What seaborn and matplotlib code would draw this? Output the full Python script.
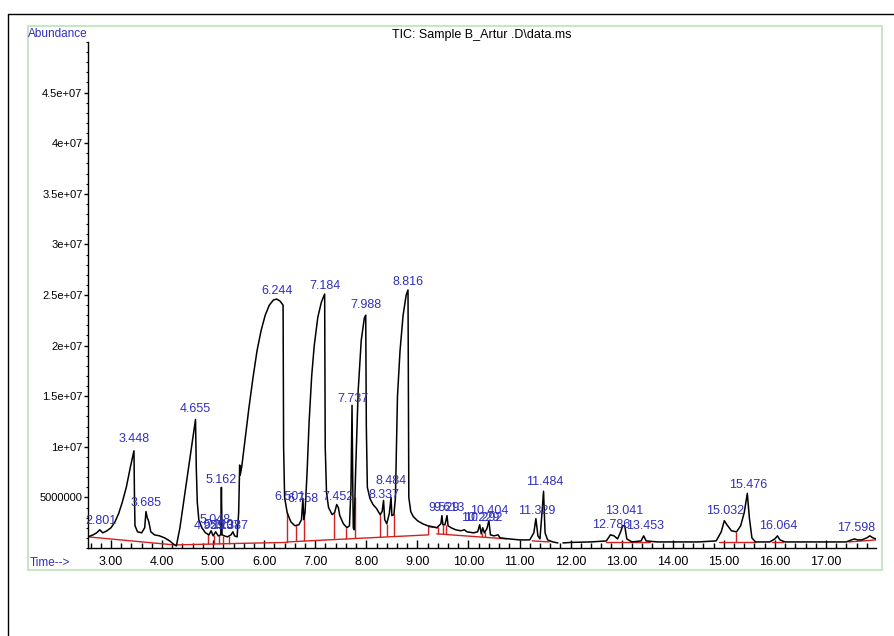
import numpy as np
import pandas as pd
import matplotlib
matplotlib.use("Agg")
import matplotlib.pyplot as plt
from matplotlib.patches import Rectangle
from matplotlib.lines import Line2D
from matplotlib.ticker import MultipleLocator, FixedLocator, FixedFormatter
import seaborn as sns

# ---------------- data ----------------
# total ion chromatogram: retention time (min) and abundance (millions)
trace_time = [
    2.55, 2.65, 2.72, 2.78, 2.84, 2.92, 3.00, 3.08, 3.15, 3.22, 3.30, 3.38, 3.45, 3.46, 3.47,
    3.52, 3.60, 3.66, 3.685, 3.71, 3.74, 3.78, 3.85, 3.95, 4.05, 4.15, 4.22, 4.28,
    4.35, 4.45, 4.55, 4.655, 4.67, 4.69, 4.72, 4.78, 4.85, 4.92, 4.96, 5.00, 5.05, 5.10,
    5.15, 5.162, 5.175, 5.22, 5.28, 5.35, 5.387, 5.42, 5.47, 5.50, 5.52, 5.53, 5.56,
    5.62, 5.70, 5.78, 5.86, 5.94, 6.02, 6.10, 6.18, 6.244, 6.31, 6.37, 6.38, 6.40,
    6.45, 6.52, 6.60, 6.68, 6.73, 6.758, 6.775, 6.80, 6.84, 6.88, 6.93, 6.98, 7.05,
    7.12, 7.184, 7.195, 7.22, 7.26, 7.33, 7.38, 7.42, 7.452, 7.48, 7.55, 7.62, 7.67,
    7.70, 7.72, 7.735, 7.745, 7.76, 7.79, 7.84, 7.90, 7.96, 7.988, 8.00, 8.02, 8.07,
    8.13, 8.20, 8.27, 8.31, 8.337, 8.36, 8.40, 8.45, 8.484, 8.50, 8.54, 8.57, 8.59,
    8.61, 8.66, 8.72, 8.78, 8.816, 8.822, 8.826, 8.832, 8.87, 8.92, 9.00,
    9.10, 9.20, 9.30, 9.38, 9.46, 9.48, 9.50, 9.54, 9.58, 9.60, 9.66, 9.75, 9.85,
    9.92, 9.97, 10.10, 10.18, 10.22, 10.25, 10.28, 10.31, 10.36, 10.40, 10.43, 10.50,
    10.58, 10.62, 10.80, 11.00, 11.20, 11.28, 11.32, 11.36, 11.40, 11.44, 11.47, 11.50,
    11.55, 11.65, 11.75,
    11.85, 12.00, 12.40, 12.70, 12.78, 12.85, 12.92, 12.98, 13.02, 13.06, 13.10, 13.20,
    13.38, 13.43, 13.48, 13.70, 14.00, 14.50, 14.85, 14.95, 15.01, 15.06, 15.15, 15.25,
    15.33, 15.40, 15.46, 15.50, 15.55, 15.62, 15.90, 16.00, 16.05, 16.10, 16.20, 16.80,
    17.40, 17.50, 17.56, 17.62, 17.70, 17.80, 17.86, 17.92, 17.98,
]
trace_abund_M = [
    1.1, 1.3, 1.5, 1.8, 1.5, 1.7, 2.0, 2.6, 3.4, 4.5, 6.0, 8.0, 9.6, 5.0, 2.2,
    1.6, 1.5, 2.0, 3.6, 3.0, 2.6, 1.6, 1.3, 1.2, 1.0, 0.7, 0.4, 0.2,
    2.0, 5.5, 9.0, 12.7, 8.0, 4.5, 2.8, 2.0, 1.5, 1.3, 1.7, 1.2, 1.6, 1.2,
    1.3, 6.0, 1.3, 1.2, 1.1, 1.3, 1.6, 1.2, 1.1, 3.5, 8.2, 7.2, 8.0,
    10.5, 13.8, 16.8, 19.5, 21.5, 23.0, 24.0, 24.5, 24.6, 24.4, 24.0, 10.0, 5.0,
    3.5, 2.6, 2.2, 2.3, 2.8, 4.9, 2.8, 3.5, 7.5, 12.5, 17.0, 20.0, 22.8,
    24.3, 25.1, 10.0, 5.5, 4.0, 3.3, 3.5, 4.3, 4.0, 3.2, 2.4, 2.0, 2.2,
    6.0, 14.1, 6.0, 2.0, 1.8, 7.5, 15.5, 20.5, 22.7, 23.0, 12.0, 6.0, 4.9,
    4.3, 3.9, 3.3, 3.6, 4.7, 2.8, 2.4, 3.4, 5.0, 3.2, 3.3, 5.0, 10.0,
    15.0, 19.5, 23.0, 25.0, 25.5, 17.5, 11.8, 5.0, 3.6, 3.1, 2.7,
    2.4, 2.2, 2.1, 2.0, 2.4, 3.2, 2.3, 2.3, 3.2, 2.2, 2.0, 1.8, 1.7,
    1.8, 1.6, 1.5, 1.6, 2.3, 1.4, 2.0, 1.5, 1.9, 2.7, 1.3, 1.2,
    1.3, 1.0, 0.9, 0.8, 0.8, 1.5, 2.9, 1.2, 0.9, 3.5, 5.6, 1.5,
    0.8, 0.6, 0.5,
    0.5, 0.55, 0.6, 0.7, 1.3, 1.2, 0.9, 1.6, 2.2, 2.2, 0.9, 0.6,
    0.7, 1.2, 0.7, 0.6, 0.6, 0.6, 0.7, 1.6, 2.7, 2.3, 1.7, 1.6,
    2.2, 3.5, 5.4, 3.0, 1.0, 0.6, 0.6, 0.9, 1.2, 0.8, 0.6, 0.6,
    0.6, 0.8, 0.9, 0.8, 0.8, 1.0, 1.2, 1.0, 0.9,
]
# the trace has a short break between 11.75 and 11.85 min
BREAK_AT = trace_time.index(11.85)
trace_segment = [0] * BREAK_AT + [1] * (len(trace_time) - BREAK_AT)

# integration baselines (red)
base_time = [2.55, 4.25, 4.25, 5.45, 6.45, 6.45, 9.22, 9.22, 9.40,
             9.38, 10.75, 11.25, 11.58, 12.70, 13.55, 14.90, 15.62,
             15.95, 16.15, 17.45, 17.98]
base_abund_M = [1.1, 0.3, 0.3, 0.45, 0.55, 0.6, 1.3, 2.1, 2.0,
                1.4, 0.9, 0.7, 0.6, 0.6, 0.6, 0.6, 0.6,
                0.6, 0.6, 0.6, 0.8]
base_segment = [0, 0, 1, 1, 1, 2, 2, 2, 2,
                3, 3, 4, 4, 5, 5, 6, 6,
                7, 7, 8, 8]

# drop lines between peaks (time, bottom, top; millions)
drop_time = [4.90, 5.02, 5.12, 5.20, 5.32, 6.45, 6.62, 6.78, 7.37, 7.60, 7.78,
             8.27, 8.40, 8.54, 9.40, 9.50, 9.56, 10.26, 10.32, 15.24]
drop_bottom_M = [0.35, 0.36, 0.37, 0.38, 0.40, 0.6, 0.65, 0.7, 0.85, 0.9, 0.95,
                 1.1, 1.15, 1.2, 1.4, 1.4, 1.4, 1.05, 1.05, 0.6]
drop_top_M = [1.4, 1.3, 1.3, 1.2, 1.2, 3.5, 2.3, 3.3, 3.5, 2.0, 5.0,
              3.4, 2.4, 3.4, 2.1, 2.3, 2.3, 1.5, 1.6, 1.6]

# peak labels: retention time and label height (millions)
peak_rt = [2.801, 3.448, 3.685, 4.655, 4.929, 5.048, 5.110, 5.237, 5.387, 5.162,
           6.244, 6.501, 6.758, 7.184, 7.452, 7.737, 7.988, 8.337, 8.484, 8.816,
           9.529, 9.613, 10.229, 10.292, 10.404, 11.329, 11.484, 12.786, 13.041,
           13.453, 15.032, 15.476, 16.064, 17.598]
peak_label_M = [2.1, 10.2, 3.9, 13.1, 1.6, 2.2, 1.7, 1.6, 1.6, 6.1,
                24.8, 4.4, 4.2, 25.3, 4.4, 14.1, 23.4, 4.6, 6.0, 25.7,
                3.4, 3.4, 2.4, 2.4, 3.1, 3.1, 5.9, 1.7, 3.1,
                1.6, 3.1, 5.6, 1.6, 1.4]

x_major = [3, 4, 5, 6, 7, 8, 9, 10, 11, 12, 13, 14, 15, 16, 17]
x_labels = ["3.00", "4.00", "5.00", "6.00", "7.00", "8.00", "9.00", "10.00",
            "11.00", "12.00", "13.00", "14.00", "15.00", "16.00", "17.00"]
y_major = [5e6, 1e7, 1.5e7, 2e7, 2.5e7, 3e7, 3.5e7, 4e7, 4.5e7]
y_labels = ["5000000", "1e+07", "1.5e+07", "2e+07", "2.5e+07", "3e+07",
            "3.5e+07", "4e+07", "4.5e+07"]

title_text = "TIC: Sample B_Artur .D\\data.ms"

# ---------------- build tables ----------------
trace = pd.DataFrame({"time": trace_time,
                      "abund": np.array(trace_abund_M) * 1e6,
                      "seg": trace_segment})
base = pd.DataFrame({"time": base_time,
                     "abund": np.array(base_abund_M) * 1e6,
                     "seg": base_segment})

# ---------------- figure ----------------
sns.set_theme(style="ticks")
plt.rcParams["font.family"] = ["Liberation Sans", "DejaVu Sans"]

W, H = 894, 636
fig = plt.figure(figsize=(W / 100, H / 100), dpi=100)
fig.patch.set_facecolor("white")
ax = fig.add_axes([88 / W, 88 / H, 788 / W, 506 / H])
ax.set_facecolor("white")

BLUE = "#2f2fbf"
RED = "#d42020"

sns.lineplot(data=base, x="time", y="abund", units="seg", estimator=None,
             color=RED, lw=1.0, ax=ax, sort=False, zorder=2)
for t, b, tp in zip(drop_time, drop_bottom_M, drop_top_M):
    ax.vlines(t, b * 1e6, tp * 1e6, color=RED, lw=1.0, zorder=2)
sns.lineplot(data=trace, x="time", y="abund", units="seg", estimator=None,
             color="black", lw=1.1, ax=ax, sort=False, zorder=3)

for rt, h in zip(peak_rt, peak_label_M):
    ax.text(rt, h * 1e6, f"{rt:.3f}", color=BLUE, fontsize=9,
            ha="center", va="bottom", zorder=4)

ax.set_xlim(2.55, 17.98)
ax.set_ylim(0, 5.0e7)
ax.set_xlabel("")
ax.set_ylabel("")

for s in ["top", "right"]:
    ax.spines[s].set_visible(False)
for s in ["left", "bottom"]:
    ax.spines[s].set_color("black")
    ax.spines[s].set_linewidth(1.0)

ax.xaxis.set_major_locator(FixedLocator(x_major))
ax.xaxis.set_major_formatter(FixedFormatter(x_labels))
ax.xaxis.set_minor_locator(MultipleLocator(0.2))
ax.yaxis.set_major_locator(FixedLocator(y_major))
ax.yaxis.set_major_formatter(FixedFormatter(y_labels))
ax.yaxis.set_minor_locator(MultipleLocator(1e6))

ax.tick_params(axis="x", which="major", direction="in", length=6, width=1,
               colors="black", labelsize=9, pad=6)
ax.tick_params(axis="x", which="minor", direction="in", length=3.5, width=1,
               colors="black")
ax.tick_params(axis="y", which="major", direction="out", length=3, width=1,
               colors="black", labelsize=8, pad=1)
ax.tick_params(axis="y", which="minor", direction="out", length=1.5, width=0.8,
               colors="black")

# outer frames
fig.patches.append(Rectangle((28 / W, 1 - 570 / H), (882 - 28) / W, (570 - 26) / H,
                             transform=fig.transFigure, fill=False,
                             edgecolor="#c6e6c6", lw=1.5, zorder=0))
fig.lines.append(Line2D([8 / W, 8 / W], [0, 1 - 14 / H], transform=fig.transFigure,
                        color="black", lw=1.0))
fig.lines.append(Line2D([8 / W, 1], [1 - 14 / H, 1 - 14 / H], transform=fig.transFigure,
                        color="black", lw=1.0))

fig.text(482 / W, 1 - 35 / H, title_text, ha="center", va="center",
         fontsize=9, color="black")
fig.text(28 / W, 1 - 34 / H, "Abundance", ha="left", va="center",
         fontsize=8.5, color=BLUE)
fig.text(30 / W, 1 - 563 / H, "Time-->", ha="left", va="center",
         fontsize=8.5, color=BLUE)

fig.savefig("out.png", dpi=100, facecolor="white")
